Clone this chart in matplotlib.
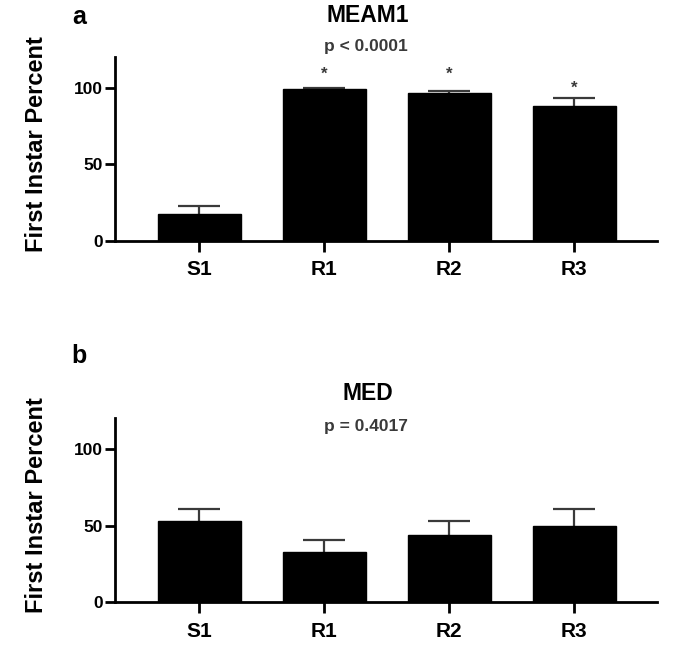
import numpy as np
import matplotlib.pyplot as plt

plt.rcParams['font.family'] = ['Liberation Sans', 'DejaVu Sans']
plt.rcParams['font.weight'] = 'bold'

groups = ['S1', 'R1', 'R2', 'R3']

meam1_mean = [17.3, 99.0, 96.4, 88.1]
meam1_sem = [5.4, 0.6, 1.5, 5.0]
meam1_star = [None, 108.7, 108.9, 99.4]

med_mean = [53.0, 32.9, 44.2, 50.0]
med_sem = [7.8, 7.6, 8.8, 10.6]

panels = [
    ('a', 'MEAM1', 'p < 0.0001', meam1_mean, meam1_sem, meam1_star),
    ('b', 'MED', 'p = 0.4017', med_mean, med_sem, [None] * 4),
]

W, H = 691, 650
fig = plt.figure(figsize=(W / 100, H / 100), dpi=100)

# axes boxes in pixels: left, top, right, bottom
boxes = [(115, 57, 657, 240.7), (115, 418.3, 657, 602.3)]
title_y = [(16, 46), (394, 427)]
letter_y = [17, 356]

gray = '#3a3a3a'
x = np.arange(len(groups))
bar_w = 0.664

for (letter, title, ptxt, mean, sem, star), box, ty, ly in zip(panels, boxes, title_y, letter_y):
    l, t, r, b = box
    ax = fig.add_axes([l / W, 1 - b / H, (r - l) / W, (b - t) / H])
    mean = np.array(mean)
    top = mean + np.array(sem)
    # upper error bars only, like Prism
    ax.vlines(x, mean, top, color=gray, lw=1.6, zorder=1)
    ax.hlines(top, x - bar_w / 4, x + bar_w / 4, color=gray, lw=1.6, zorder=1)
    ax.bar(x, mean, width=bar_w, color='black', edgecolor='black', zorder=2)
    for xi, s in zip(x, star):
        if s is not None:
            ax.text(xi, s, '*', ha='center', va='center', fontsize=12, color=gray)
    ax.set_xlim(-0.672, 3.664)
    ax.set_ylim(0, 120)
    ax.set_yticks([0, 50, 100])
    ax.set_xticks(x)
    ax.set_xticklabels(groups, fontsize=15, fontweight='bold')
    ax.tick_params(axis='y', labelsize=12.5, width=2, length=7, pad=2)
    ax.tick_params(axis='x', width=2, length=8, pad=6)
    for lab in ax.get_yticklabels():
        lab.set_fontweight('bold')
    for side in ['top', 'right']:
        ax.spines[side].set_visible(False)
    for side in ['left', 'bottom']:
        ax.spines[side].set_linewidth(2)
    ax.set_ylabel('First Instar Percent', fontsize=17, fontweight='bold')
    ax.yaxis.set_label_coords((48 - l) / (r - l), 0.527)

    fig.text(368 / W, 1 - ty[0] / H, title, ha='center', va='center',
             fontsize=16.5, fontweight='bold')
    fig.text(366 / W, 1 - ty[1] / H, ptxt, ha='center', va='center',
             fontsize=12.5, fontweight='bold', color=gray)
    fig.text(79 / W, 1 - ly / H, letter, ha='center', va='center',
             fontsize=18, fontweight='bold')

fig.savefig('out.png', dpi=100)
